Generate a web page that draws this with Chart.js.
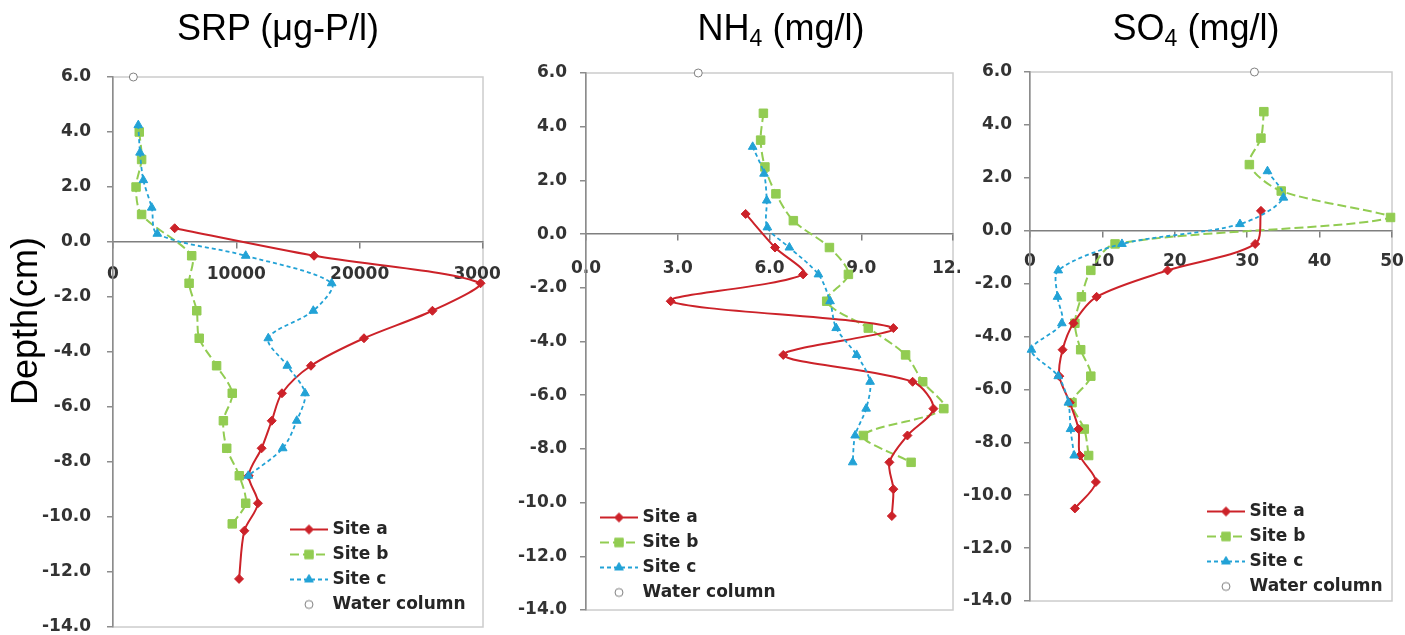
<!DOCTYPE html>
<html>
<head>
<meta charset="utf-8">
<script src="https://cdn.jsdelivr.net/npm/chart.js@4.4.0/dist/chart.umd.min.js"></script>
<style>
  body { margin: 0; background: #fff; width: 1405px; height: 635px; position: relative; overflow: hidden; font-family: "Liberation Sans", Arial, sans-serif; }
  canvas { position: absolute; top: 0; }
  .ttl { position: absolute; top: 10px; font-size: 36px; line-height: 36px; color: #000; white-space: nowrap; transform: translateX(-50%); }
  .ttl sub { font-size: 23px; line-height: 0; vertical-align: -6px; }
  #depth { position: absolute; left: -95px; top: 303px; width: 240px; height: 36px; font-size: 36px; line-height: 36px; text-align: center; transform: rotate(-90deg); }
</style>
</head>
<body>
<canvas id="chartSRP" width="500" height="635" style="left:0px"></canvas>
<canvas id="chartNH4" width="460" height="635" style="left:500px"></canvas>
<canvas id="chartSO4" width="447" height="635" style="left:958px"></canvas>
<div class="ttl" style="left:278px">SRP (μg-P/l)</div>
<div class="ttl" style="left:781px">NH<sub>4</sub> (mg/l)</div>
<div class="ttl" style="left:1196px">SO<sub>4</sub> (mg/l)</div>
<div id="depth">Depth(cm)</div>
<script>
// tick labels
const depthTicks = [-14, -12, -10, -8, -6, -4, -2, 0, 2, 4, 6]
const srpTicks = [0, 10000, 20000, 30000]
const nh4Ticks = [0, 3, 6, 9, 12]
const so4Ticks = [0, 10, 20, 30, 40, 50]
const seriesNames = ['Site a', 'Site b', 'Site c', 'Water column']

// SRP (ug-P/l) vs depth (cm)
const srpDepthA = [0.5, -0.5, -1.5, -2.5, -3.5, -4.5, -5.5, -6.5, -7.5, -8.5, -9.5, -10.5, -12.25]
const srpSiteA = [5000, 16300, 29800, 25900, 20350, 16050, 13700, 12870, 12050, 11000, 11750, 10650, 10220]
const srpDepthB = [4.0, 3.0, 2.0, 1.0, -0.5, -1.5, -2.5, -3.5, -4.5, -5.5, -6.5, -7.5, -8.5, -9.5, -10.25]
const srpSiteB = [2130, 2320, 1870, 2320, 6380, 6170, 6790, 6990, 8400, 9670, 8950, 9220, 10240, 10760, 9670]
const srpDepthC = [4.25, 3.25, 2.25, 1.25, 0.3, -0.5, -1.5, -2.5, -3.5, -4.5, -5.5, -6.5, -7.5, -8.5]
const srpSiteC = [2050, 2190, 2460, 3140, 3590, 10760, 17730, 16240, 12590, 14130, 15570, 14900, 13760, 10970]
const srpDepthW = [6.0]
const srpWater = [1650]

// NH4 (mg/l)
const nh4DepthA = [0.75, -0.5, -1.5, -2.5, -3.5, -4.5, -5.5, -6.5, -7.5, -8.5, -9.5, -10.5]
const nh4SiteA = [5.22, 6.18, 7.1, 2.77, 10.05, 6.45, 10.68, 11.36, 10.51, 9.92, 10.05, 10.0]
const nh4DepthB = [4.5, 3.5, 2.5, 1.5, 0.5, -0.5, -1.5, -2.5, -3.5, -4.5, -5.5, -6.5, -7.5, -8.5]
const nh4SiteB = [5.8, 5.71, 5.85, 6.21, 6.78, 7.96, 8.58, 7.87, 9.23, 10.45, 11.01, 11.7, 9.07, 10.63]
const nh4DepthC = [3.25, 2.25, 1.25, 0.25, -0.5, -1.5, -2.5, -3.5, -4.5, -5.5, -6.5, -7.5, -8.5]
const nh4SiteC = [5.45, 5.82, 5.91, 5.93, 6.65, 7.6, 7.98, 8.18, 8.85, 9.29, 9.16, 8.8, 8.72]
const nh4DepthW = [6.0]
const nh4Water = [3.67]

// SO4 (mg/l)
const so4DepthA = [0.75, -0.5, -1.5, -2.5, -3.5, -4.5, -5.5, -6.5, -7.5, -8.5, -9.5, -10.5]
const so4SiteA = [31.9, 31.1, 19.0, 9.2, 6.0, 4.5, 4.05, 5.5, 6.7, 6.9, 9.1, 6.2]
const so4DepthB = [4.5, 3.5, 2.5, 1.5, 0.5, -0.5, -1.5, -2.5, -3.5, -4.5, -5.5, -6.5, -7.5, -8.5]
const so4SiteB = [32.3, 31.9, 30.3, 34.7, 49.8, 11.75, 8.4, 7.1, 6.2, 7.0, 8.4, 5.8, 7.5, 8.1]
const so4DepthC = [2.25, 1.25, 0.25, -0.5, -1.5, -2.5, -3.5, -4.5, -5.5, -6.5, -7.5, -8.5]
const so4SiteC = [32.8, 35.0, 29.0, 12.7, 3.9, 3.8, 4.4, 0.2, 3.9, 5.3, 5.6, 6.1]
const so4DepthW = [6.0]
const so4Water = [31.0]

const red = '#cc2229'
const green = '#92cc52'
const blue = '#22a2d6'
const tickFont = { family: 'DejaVu Sans', weight: 'bold', size: 17 }

function pts(vals, depths) {
    return vals.map((v, i) => ({ x: v, y: depths[i] }))
}

// small legend pictures: line sample with the marker on it
function legendIcon(color, dash, style, radius, fill) {
    var c = document.createElement('canvas')
    c.width = 38
    c.height = 16
    var g = c.getContext('2d')
    if (dash) {
        g.strokeStyle = color
        g.lineWidth = 2
        g.setLineDash(dash)
        g.beginPath()
        g.moveTo(0, 8)
        g.lineTo(38, 8)
        g.stroke()
        g.setLineDash([])
    }
    g.fillStyle = fill
    g.strokeStyle = color
    g.lineWidth = 1
    Chart.helpers.drawPoint(g, { pointStyle: style, radius: radius, borderWidth: 1, rotation: 0 }, 19, 8)
    return c
}
const icons = [
    legendIcon(red, [38, 0], 'rectRot', 4.5, red),
    legendIcon(green, [9, 4], 'rect', 6, green),
    legendIcon(blue, [4, 3], 'triangle', 5, blue),
    legendIcon('#808080', null, 'circle', 4, '#fff')
]

// put the legend box where it sits in the picture
const legendSpot = {
    id: 'legendSpot',
    afterLayout(chart, args, opts) {
        var lg = chart.legend
        lg.left = opts.left
        lg.right = opts.left + 260
        lg.top = opts.top
        lg.bottom = chart.height
    }
}

// light frame around the plot area
const plotBorder = {
    id: 'plotBorder',
    beforeDraw(chart) {
        var a = chart.chartArea
        var c = chart.ctx
        c.save()
        c.strokeStyle = '#cccccc'
        c.lineWidth = 1.5
        c.strokeRect(a.left, a.top, a.right - a.left, a.bottom - a.top)
        c.restore()
    }
}

function makeSets(a, aD, b, bD, c, cD, w, wD) {
    return [
        { label: seriesNames[0], data: pts(a, aD), showLine: true, tension: 0.3, borderColor: red, backgroundColor: red,
          borderWidth: 2, pointStyle: 'rectRot', pointRadius: 4.5, pointBorderWidth: 1, clip: false, order: 1 },
        { label: seriesNames[1], data: pts(b, bD), showLine: true, tension: 0.3, borderColor: green, backgroundColor: green,
          borderWidth: 2, borderDash: [9, 4], pointStyle: 'rect', pointRadius: 6, pointBorderWidth: 1, clip: false, order: 2 },
        { label: seriesNames[2], data: pts(c, cD), showLine: true, tension: 0.3, borderColor: blue, backgroundColor: blue,
          borderWidth: 1.8, borderDash: [4, 3], pointStyle: 'triangle', pointRadius: 5, pointBorderWidth: 1, clip: false, order: 0 },
        { label: seriesNames[3], data: pts(w, wD), showLine: false, borderColor: '#808080', backgroundColor: '#ffffff',
          pointStyle: 'circle', pointRadius: 4, pointBorderWidth: 1, clip: false, order: 3 }
    ]
}

function makePanel(id, sets, p) {
    var ctx = document.getElementById(id)
    return new Chart(ctx, {
        type: 'scatter',
        data: { datasets: sets },
        options: {
            responsive: false,
            animation: false,
            devicePixelRatio: 1,
            layout: { padding: { left: 0, top: p.top, right: p.right, bottom: p.bottom } },
            scales: {
                x: {
                    type: 'linear', min: 0, max: p.xTicks[p.xTicks.length - 1], position: { y: 0 },
                    afterBuildTicks: s => { s.ticks = p.xTicks.map(v => ({ value: v })) },
                    afterFit: s => { s.paddingLeft = 0; s.paddingRight = 0 },
                    ticks: { callback: p.xFmt, color: '#333333', font: tickFont, padding: p.xPad, maxRotation: 0, autoSkip: false },
                    grid: { drawOnChartArea: false, tickLength: 6, color: '#808080', lineWidth: 1.5 },
                    border: { color: '#7f7f7f', width: 1.5 }
                },
                y: {
                    type: 'linear', min: -14, max: 6,
                    afterBuildTicks: s => { s.ticks = depthTicks.map(v => ({ value: v })) },
                    afterFit: s => { s.width = p.left; s.paddingTop = 0; s.paddingBottom = 0 },
                    ticks: { callback: v => v.toFixed(1), color: '#333333', font: tickFont, padding: p.yPad },
                    grid: { drawOnChartArea: false, tickLength: 6, color: '#8c8c8c', lineWidth: 1.5 },
                    border: { color: '#8c8c8c', width: 1.5 }
                }
            },
            plugins: {
                tooltip: { enabled: false },
                legend: {
                    position: 'chartArea',
                    align: 'start',
                    labels: {
                        usePointStyle: true,
                        pointStyleWidth: 30,
                        padding: 8,
                        color: '#262626',
                        font: { family: 'DejaVu Sans', weight: 'bold', size: 17 },
                        generateLabels: chart => chart.data.datasets.map((ds, i) => ({
                            text: ds.label, pointStyle: icons[i], datasetIndex: i, hidden: false,
                            lineWidth: 0, strokeStyle: 'rgba(0,0,0,0)', fillStyle: 'rgba(0,0,0,0)', fontColor: '#262626'
                        }))
                    }
                },
                legendSpot: { left: p.legendLeft, top: p.legendTop }
            }
        },
        plugins: [plotBorder, legendSpot]
    })
}

makePanel('chartSRP',
    makeSets(srpSiteA, srpDepthA, srpSiteB, srpDepthB, srpSiteC, srpDepthC, srpWater, srpDepthW),
    { left: 113, top: 77, right: 17, bottom: 8, xTicks: srpTicks, xFmt: v => String(v),
      xPad: 16, yPad: 16, legendLeft: 286, legendTop: 513 })

makePanel('chartNH4',
    makeSets(nh4SiteA, nh4DepthA, nh4SiteB, nh4DepthB, nh4SiteC, nh4DepthC, nh4Water, nh4DepthW),
    { left: 86, top: 73, right: 7, bottom: 25, xTicks: nh4Ticks, xFmt: v => v.toFixed(1),
      xPad: 18, yPad: 13, legendLeft: 96, legendTop: 501 })

makePanel('chartSO4',
    makeSets(so4SiteA, so4DepthA, so4SiteB, so4DepthB, so4SiteC, so4DepthC, so4Water, so4DepthW),
    { left: 72, top: 72, right: 13, bottom: 34, xTicks: so4Ticks, xFmt: v => String(v),
      xPad: 15, yPad: 12, legendLeft: 245, legendTop: 495 })
</script>
</body>
</html>
